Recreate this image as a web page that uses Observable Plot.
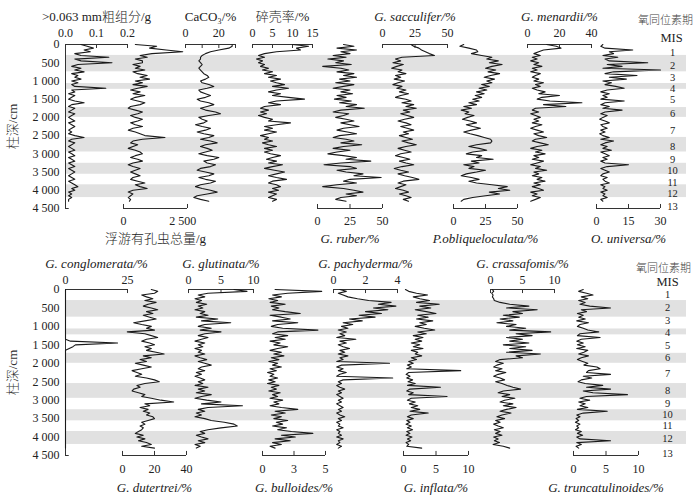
<!DOCTYPE html>
<html>
<head>
<meta charset="utf-8">
<script src="https://cdn.jsdelivr.net/npm/d3@7"></script>
<script src="https://cdn.jsdelivr.net/npm/@observablehq/plot@0.6"></script>
<style>
html,body{margin:0;padding:0;background:#fff;}
#chart{position:relative;width:700px;height:502px;overflow:hidden;background:#fff;}
#chart svg{position:absolute;left:0;top:0;}
</style>
</head>
<body>
<div id="chart"></div>
<script>
// ---------- sample depths (cm) ----------
const depth = [
  0,50,100,150,200,250,300,350,400,450,
  500,550,600,650,700,750,800,850,900,950,
  1000,1050,1100,1150,1200,1250,1300,1350,1400,1450,
  1500,1550,1600,1650,1700,1750,1800,1850,1900,1950,
  2000,2050,2100,2150,2200,2250,2300,2350,2400,2450,
  2500,2550,2600,2650,2700,2750,2800,2850,2900,2950,
  3000,3050,3100,3150,3200,3250,3300,3350,3400,3450,
  3500,3550,3600,3650,3700,3750,3800,3850,3900,3950,
  4000,4050,4100,4150,4200,4250,4300
];

// ---------- MIS stages ----------
const misBands = [[300,750],[1070,1230],[1730,2000],[2550,2950],[3260,3560],[3850,4200]];
const misLabels = ["1","2","3","4","5","6","7","8","9","10","11","12","13"];
const misDepthTop = [220,576,906,1207,1509,1893,2360,2799,3155,3457,3786,4088,4445];
const misDepthBottom = [136,488,840,1165,1518,1843,2276,2737,3090,3388,3686,4038,4444];
const yTicks = [0,500,1000,1500,2000,2500,3000,3500,4000,4500];
const yTickLabels = ["0","500","1 000","1 500","2 000","2 500","3 000","3 500","4 000","4 500"];
const yTitle = "柱深/cm";
const misTitle = "氧同位素期";
const misSub = "MIS";

// ---------- upper panel series ----------
const coarse = [
  0.05,0.07,0.09,0.06,0.08,0.03,0.05,0.14,0.03,0.05,
  0.15,0.04,0.02,0.05,0.03,0.06,0.02,0.04,0.03,0.05,
  0.02,0.04,0.02,0.03,0.13,0.02,0.03,0.01,0.03,0.02,
  0.01,0.03,0.06,0.02,0.01,0.03,0.02,0.01,0.03,0.02,
  0.01,0.02,0.03,0.01,0.02,0.03,0.02,0.01,0.02,0.01,
  0.03,0.06,0.02,0.01,0.03,0.02,0.01,0.02,0.03,0.01,
  0.02,0.03,0.01,0.02,0.03,0.01,0.02,0.03,0.01,0.02,
  0.03,0.02,0.01,0.02,0.03,0.01,0.02,0.03,0.04,0.02,
  0.03,0.01,0.02,0.01,0.02,0.01,0.01
];
const plankTotal = [
  500,1400,1100,1800,2500,1200,700,1000,500,800,
  800,400,700,500,900,400,600,1000,700,1100,
  500,800,400,1000,600,300,700,400,900,500,
  300,600,900,700,300,200,500,800,600,300,
  500,800,600,300,500,800,400,200,500,700,
  900,1750,800,400,300,600,400,200,500,700,
  800,500,300,600,800,400,200,400,700,500,
  300,500,700,400,300,600,900,500,700,1000,
  400,200,400,300,200,300,250
];
const caco3 = [
  28,28,26,20,15,12,10,9,9,8,
  9,10,9,8,9,10,11,13,14,12,
  9,10,14,17,13,8,9,12,15,12,
  7,9,14,17,13,9,12,18,21,14,
  8,10,13,11,6,10,15,12,7,11,
  17,14,9,15,19,12,9,13,16,12,
  8,13,20,17,11,13,18,15,9,7,
  12,17,14,8,12,18,15,9,6,10,
  15,19,13,7,5,9,14
];
const fragRate = [
  10,14,11,12,6,3,1.5,3,1,2.5,
  1.5,3,2,4,2.5,5,3,6,4,7,
  4.5,6,8,5,9,6,4,7,5,9,
  13,6,4,7,3,2,4,2,3.5,1.5,
  3,5,4,9.5,6,3,5,3,6,4,
  2,4,3,5,2.5,4,6,3,5,3,
  4.5,7,5,3.5,6,4,7.5,5,3,5.5,
  8,6,4,6,8.5,5,4,6,7,5,
  6.5,4,6,5,4,6,5
];
const ruber = [
  20,28,15,30,18,25,12,22,8,20,
  14,26,4,18,24,15,28,20,30,17,
  25,14,28,20,12,25,18,27,15,22,
  13,26,17,30,22,36,18,12,24,20,
  14,22,28,18,25,32,20,15,23,30,
  17,12,22,28,18,34,20,12,25,15,
  8,20,30,22,41,18,5,25,30,15,
  22,35,28,49,25,20,30,15,4,20,
  28,35,22,30,18,14,22
];
const sacculifer = [
  22,24,28,30,33,36,40,15,10,14,
  8,16,11,7,15,12,18,10,14,9,
  17,12,8,15,11,18,13,20,14,10,
  18,22,15,24,18,26,16,21,14,19,
  24,17,12,18,22,14,19,24,16,20,
  13,18,23,15,20,26,18,12,17,22,
  14,10,16,21,13,18,24,15,9,14,
  20,12,17,23,28,16,12,18,14,10,
  16,20,13,18,22,16,20
];
const obliqueloculata = [
  8,5,12,18,19,14,22,30,26,35,
  28,38,30,25,33,27,36,29,24,32,
  26,30,22,28,20,26,18,24,17,22,
  15,20,12,18,8,14,6,12,9,16,
  11,7,13,18,10,15,21,14,8,13,
  19,24,29,30,29,18,12,20,26,15,
  10,22,18,31,14,20,8,16,12,25,
  18,10,6,14,20,12,18,30,42,35,
  44,28,36,25,15,8,6
];
const menardii = [
  12,18,21,10,7,4,8,3,6,2,
  7,4,9,3,6,2,8,5,3,7,
  4,10,5,8,3,6,11,7,20,9,
  6,14,34,10,24,5,3,7,2,5,
  8,4,7,3,9,5,2,6,10,4,
  7,12,5,3,8,13,6,2,9,5,
  11,4,7,3,10,6,2,8,5,12,
  4,7,3,9,6,11,4,8,3,7,
  10,2,6,3,8,5,2
];
const universa = [
  3,2,4,17,6,8,3,10,4,6,
  24,5,12,3,30,8,4,19,6,14,
  3,7,4,9,13,5,2,6,3,5,
  2,13,4,2,6,3,12,4,2,5,
  3,1.5,4,6,2,3,5,2,4,1.5,
  3,6,2,8,4,2,5,3,7,2,
  4,6,3,5,2,4,15,5,2,4,
  6,3,2,5,3,4,6,2,4,3,
  5,2,4,3,5,2,3
];

// ---------- lower panel series ----------
const conglomerata = [
  0,0,0,0,0,0,0,0,0,0,
  0,0,0,0,0,0,0,0,0,0,
  0,0,0,0,0,0,0,0,2,21,
  4,3,1.5,0,0,0,0,0,0,0,
  0,0,0,0,0,0,0,0,0,0,
  0,0,0,0,0,0,0,0,0,0,
  0,0,0,0,0,0,0,0,0,0,
  0,0,0,0,0,0,0,0,0,0,
  0,0,0,0,0,0,0
];
const dutertrei = [
  18,22,20,12,15,19,14,21,16,13,
  18,22,15,19,13,17,21,14,7,12,
  18,15,20,3,14,18,22,15,12,17,
  20,14,18,15,21,26,13,18,11,15,
  8,13,18,12,6,9,12,8,15,20,
  23,14,9,11,7,6,10,14,12,18,
  24,32,14,17,11,16,13,17,15,19,
  20,16,12,14,11,13,12,10,8,13,
  9,14,10,15,18,12,20
];
const glutinata = [
  7,9,3,1.5,2.5,1,2,1.2,2.8,1.5,
  2.2,1,2.5,1.8,3,1.2,4.5,2,6.5,2.5,
  1.5,3.5,1.8,5,2.5,1.5,3,2,1,2.5,
  1.5,2.2,1,2,1.5,2.5,1,1.8,2.8,1.5,
  2.5,3.5,2,1.5,2.5,1.2,2,1,1.8,2.5,
  1.5,2.2,1,3,1.5,2.5,1.2,3.5,2,1,
  2.8,5,2,8.3,3,1.5,2.5,1.2,2,1,
  2.5,3.5,5.5,7,7.5,5,3,1.8,2.5,1.2,
  2,3,1.5,2.5,1,1.8,1.2
];
const bulloides = [
  1,4.7,2,0.8,1.5,0.5,1.2,0.6,1.8,0.7,
  1.3,0.8,1.8,3,0.6,1.5,2.2,0.8,2.8,1.2,
  0.7,1.6,4.4,1.2,0.8,2,1,1.8,0.6,1.4,
  0.9,2,1.2,0.6,1.5,0.9,1.7,0.7,1.3,0.5,
  1.2,0.8,1.5,0.6,1.1,0.4,0.9,0.6,1.2,0.5,
  1,0.4,1.3,0.7,1.1,0.5,1.4,0.8,1.2,0.6,
  1.6,0.9,1.3,0.6,1.5,2.8,1,1.8,0.7,1.5,
  0.9,2,1.1,1.6,0.8,1.9,1.2,2.3,4,1.5,
  2.6,1,2.2,0.8,1.5,0.6,1
];
const pachyderma = [
  0.4,0.8,0.3,0.6,0.9,1.5,2.2,3.6,2.8,3.9,
  2.5,3.4,2,3,1.6,2.6,1,1.8,0.6,1.2,
  0.5,0.9,0.3,0.8,0.4,0.7,0.2,1.4,0.4,0.8,
  0.3,0.6,1,0.4,0.7,0.3,0.9,0.4,0.6,0.2,
  3.5,0.5,0.2,0.6,0.3,0.8,0.4,0.2,3.7,0.6,
  0.3,0.5,0.2,0.4,0.7,0.3,0.5,0.2,0.4,0.6,
  0.3,0.5,0.2,0.4,0.6,0.3,0.5,0.2,0.4,0.7,
  0.3,0.5,0.2,0.4,0.3,0.6,0.2,0.4,0.3,0.5,
  0.2,0.6,0.3,0.4,0.2,0.5,0.3
];
const inflata = [
  0.3,0.8,2,3.7,1.5,2.5,4,2,5.5,2.5,
  4.2,1.8,3.5,5,2.2,3.8,2,4.5,2.5,3.5,
  1.8,3.2,4.8,2.2,3.5,1.5,3,1.8,2.8,1.2,
  2.5,1.5,3,1.2,2.2,1.8,2.8,1.2,2,0.8,
  1.5,0.6,1.2,0.5,8.8,0.8,0.4,1,0.5,1.4,
  0.7,1.8,0.6,5.7,1,0.5,1.5,0.8,6.7,1.2,
  0.6,1.8,0.9,2.2,1.2,2.5,1,3.8,1.2,0.6,
  1.5,0.5,1,0.4,1.2,0.6,1.4,0.5,1,0.4,
  1.3,0.6,1.1,0.4,0.8,0.5,2.8
];
const crassaformis = [
  0.3,0.5,0.2,0.4,0.3,0.5,0.6,1.5,3,6,
  2.5,7.3,3.5,5,2,4.5,1.5,3.5,1,4,
  2.5,5.5,3,9.4,4,6.5,2.5,5,3,6,
  2,5.5,3,6.5,2.5,7.8,4,5,1.5,0.8,
  2,1,0.5,1.8,0.8,2.4,1.2,0.5,1.5,2.2,
  0.8,1.8,2.6,3.5,4.7,2,1.2,3,1.8,3.8,
  2.2,1.5,3.5,2,4,2.5,1.5,3.2,1.8,1,
  2.2,0.8,1.5,0.5,1.2,2,0.6,1.5,0.8,1.8,
  0.5,1.2,0.6,1.4,0.4,2,3
];
const truncatulinoides = [
  1.5,0.8,2,3,1.2,2.2,0.8,1.8,1,2.5,
  5.7,1.2,2,0.6,1.5,0.8,1.8,0.5,2.3,1,
  0.6,1.5,2.2,3.9,1,0.6,4.1,1.2,0.5,1.5,
  0.6,1.8,0.5,2.2,1.6,0.8,2.3,1.2,0.6,1.4,
  2.2,1.6,3.6,4.1,2.3,2,5.7,1.5,2.8,1.2,
  0.7,1.8,4.5,2,5.7,1.5,3,8.3,2,1,
  2.5,0.8,1.8,1,2.2,0.6,5.2,1.5,0.5,1,
  0.4,0.8,0.3,1,0.5,0.8,0.3,1.2,0.6,1.4,
  0.5,1,5.7,0.5,1.2,0.4,0.8
];

// ---------- series definitions (titles, scale domains, tick labels) ----------
const upperSeries = [
  {title:">0.063 mm粗组分/g", values:coarse, domain:[0,0.2], side:"top", ticks:[0.1], tickVals:[0,0.1,0.2], tickText:["0.0","0.1","0.2"], italic:false},
  {title:"浮游有孔虫总量/g", values:plankTotal, domain:[0,2700], side:"bottom", ticks:[], tickVals:[0,2500], tickText:["0","2 500"], italic:false},
  {title:"CaCO₃/%", values:caco3, domain:[0,30], side:"top", ticks:[10,20], tickVals:[0,20], tickText:["0","20"], italic:false},
  {title:"碎壳率/%", values:fragRate, domain:[0,15], side:"top", ticks:[5,10], tickVals:[0,5,10,15], tickText:["0","5","10","15"], italic:false},
  {title:"G. ruber/%", values:ruber, domain:[0,50], side:"bottom", ticks:[25], tickVals:[0,25,50], tickText:["0","25","50"], italic:true},
  {title:"G. sacculifer/%", values:sacculifer, domain:[0,50], side:"top", ticks:[25], tickVals:[0,25,50], tickText:["0","25","50"], italic:true},
  {title:"P.obliqueloculata/%", values:obliqueloculata, domain:[0,50], side:"bottom", ticks:[25], tickVals:[0,25,50], tickText:["0","25","50"], italic:true},
  {title:"G. menardii/%", values:menardii, domain:[0,40], side:"top", ticks:[20], tickVals:[0,20,40], tickText:["0","20","40"], italic:true},
  {title:"O. universa/%", values:universa, domain:[0,30], side:"bottom", ticks:[15], tickVals:[0,15,30], tickText:["0","15","30"], italic:true}
];
const lowerSeries = [
  {title:"G. conglomerata/%", values:conglomerata, domain:[0,25], side:"top", ticks:[], tickVals:[0,25], tickText:["0","25"], italic:true},
  {title:"G. dutertrei/%", values:dutertrei, domain:[0,40], side:"bottom", ticks:[20], tickVals:[0,20,40], tickText:["0","20","40"], italic:true},
  {title:"G. glutinata/%", values:glutinata, domain:[0,10], side:"top", ticks:[5], tickVals:[0,5,10], tickText:["0","5","10"], italic:true},
  {title:"G. bulloides/%", values:bulloides, domain:[0,5], side:"bottom", ticks:[2.5], tickVals:[0,2.5,5], tickText:["0","3","5"], italic:true},
  {title:"G. pachyderma/%", values:pachyderma, domain:[0,4], side:"top", ticks:[2], tickVals:[0,2,4], tickText:["0","2","4"], italic:true},
  {title:"G. inflata/%", values:inflata, domain:[0,10], side:"bottom", ticks:[5], tickVals:[0,5,10], tickText:["0","5","10"], italic:true},
  {title:"G. crassafomis/%", values:crassaformis, domain:[0,10], side:"top", ticks:[5], tickVals:[0,5,10], tickText:["0","5","10"], italic:true},
  {title:"G. truncatulinoides/%", values:truncatulinoides, domain:[0,10], side:"bottom", ticks:[5], tickVals:[0,5,10], tickText:["0","5","10"], italic:true}
];

// ---------- layout (pixel ranges) ----------
const upperRanges = [[65,127],[123,187],[185,235],[252,312],[317,382],[382,447],[453,517],[527,591],[596,660]];
const lowerRanges = [[65,127],[122,186],[188,253],[262,325],[333,397],[403,468],[490,554],[573,638]];
const upperLayout = {top:44, bottom:208, mis:misDepthTop, misDx:-14, headDx:-21, headDy:-28, subDx:-15, subDy:-11,
  tickDyTop:-11, titleDyTop:-28, tickDyBot:13, titleDyBot:30};
const lowerLayout = {top:289, bottom:455, mis:misDepthBottom, misDx:-19, headDx:-23, headDy:-25, subDx:-19, subDy:-12,
  tickDyTop:-9, titleDyTop:-26, tickDyBot:14, titleDyBot:32};

const W = 700, H = 502;
const FONT = "'Liberation Serif','DejaVu Serif','Noto Sans CJK SC',serif";
const INK = "#222";
const svgStyle = {background:"transparent", overflow:"visible", fontFamily:FONT, fontSize:"12px", color:INK};

[...upperSeries, ...lowerSeries].forEach(s => {
  if (s.values.length !== depth.length) throw new Error(s.title + " has " + s.values.length + " values");
});

function basePlot(L) {
  return Plot.plot({
    width: W, height: H,
    marginTop: L.top, marginBottom: H - L.bottom, marginLeft: 65, marginRight: 14,
    x: {domain: [0, 1], axis: null},
    y: {domain: [0, 4500], range: [L.top, L.bottom], axis: null},
    style: svgStyle,
    marks: [
      Plot.rect(misBands, {x1: 0, x2: 1, y1: b => b[0], y2: b => b[1], fill: "#e1e1e1"}),
      Plot.ruleX([0], {y1: 0, y2: 4500, stroke: "#333", strokeWidth: 1}),
      Plot.ruleY([4500], {x1: 0, x2: 0.006, stroke: "#333", strokeWidth: 1}),
      Plot.text(yTicks, {frameAnchor: "left", y: d => d, dx: -6, textAnchor: "end", text: (d, i) => yTickLabels[i], fill: INK, fontSize: 12}),
      Plot.text([yTitle], {frameAnchor: "left", dx: -53, rotate: -90, textAnchor: "middle", fill: "#333", fontSize: 13, fontWeight: 300}),
      Plot.text(misLabels, {frameAnchor: "right", dx: L.misDx, y: (d, i) => L.mis[i], textAnchor: "middle", text: d => d, fill: INK, fontSize: 10.5}),
      Plot.text([misTitle], {frameAnchor: "top-right", dx: L.headDx, dy: L.headDy, textAnchor: "middle", fill: "#444", fontSize: 11, fontWeight: 300}),
      Plot.text([misSub], {frameAnchor: "top-right", dx: L.subDx, dy: L.subDy, textAnchor: "middle", fill: INK, fontSize: 12.5})
    ]
  });
}

function curvePlot(L, s, range) {
  const [d0, d1] = s.domain;
  const top = s.side === "top";
  const edge = top ? 0 : 4500;
  const tl = top ? 110 : -110;
  const tickPos = [d0, ...s.ticks, d1];
  const rows = depth.map((d, i) => ({depth: d, value: s.values[i]}));
  return Plot.plot({
    width: W, height: H,
    marginTop: L.top, marginBottom: H - L.bottom, marginLeft: range[0], marginRight: W - range[1],
    x: {domain: s.domain, range: range, axis: null},
    y: {domain: [0, 4500], range: [L.top, L.bottom], axis: null},
    style: svgStyle,
    marks: [
      Plot.ruleY([edge], {x1: d0, x2: d1, stroke: "#333", strokeWidth: 1}),
      Plot.ruleX(tickPos, {x: d => d, y1: edge, y2: edge + tl, stroke: "#333", strokeWidth: 1}),
      Plot.text(s.tickText, {x: (t, i) => s.tickVals[i], y: () => edge, dy: top ? L.tickDyTop : L.tickDyBot,
        text: d => d, textAnchor: "middle", fill: INK, fontSize: 12}),
      Plot.text([s.title], {x: () => (d0 + d1) / 2, y: () => edge, dy: top ? L.titleDyTop : L.titleDyBot,
        text: d => d, textAnchor: "middle", fill: INK, fontSize: 13, fontWeight: 300, fontStyle: s.italic ? "italic" : "normal"}),
      Plot.line(rows, {x: "value", y: "depth", stroke: "#1a1a1a", strokeWidth: 1.1})
    ]
  });
}

const chart = document.getElementById("chart");
chart.append(basePlot(upperLayout));
chart.append(basePlot(lowerLayout));
upperSeries.forEach((s, i) => chart.append(curvePlot(upperLayout, s, upperRanges[i])));
lowerSeries.forEach((s, i) => chart.append(curvePlot(lowerLayout, s, lowerRanges[i])));
</script>
</body>
</html>
